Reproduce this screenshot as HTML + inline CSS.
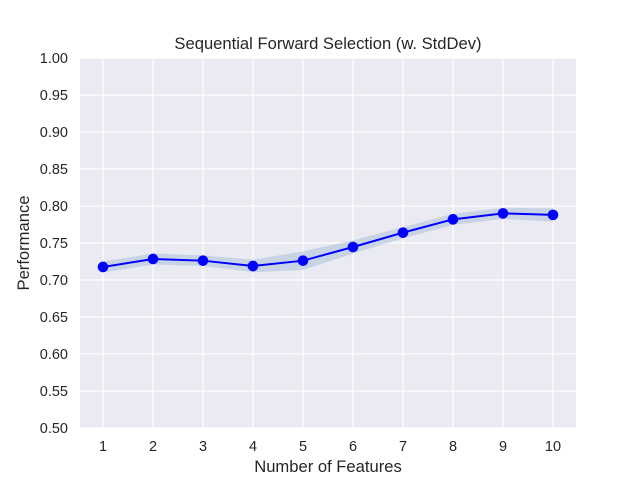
<!DOCTYPE html>
<html><head><meta charset="utf-8"><style>
body{margin:0;background:#fff;}
svg text{font-family:"Liberation Sans","DejaVu Sans",sans-serif;fill:#262626;}
</style></head><body>
<svg id="chart" width="640" height="480" xmlns="http://www.w3.org/2000/svg">
<rect x="80" y="58" width="496" height="370" fill="#eaeaf2"/>
<g id="grid"></g>
<path id="band" fill="#b0c4de" fill-opacity="0.6" stroke="none"/>
<path id="line" fill="none" stroke="#0000ff" stroke-width="2"/>
<g id="points"></g>
<g id="xticks"></g><g id="yticks"></g>
<text x="328" y="49" font-size="16.6" text-anchor="middle">Sequential Forward Selection (w. StdDev)</text>
<text x="328" y="472" font-size="16.6" text-anchor="middle">Number of Features</text>
<text transform="translate(29,243) rotate(-90)" font-size="16.6" text-anchor="middle">Performance</text>
</svg>
<script>
const features=[1,2,3,4,5,6,7,8,9,10];
const perf=[0.7176,0.7284,0.7261,0.7189,0.7261,0.7446,0.764,0.782,0.790,0.788];
const stdv=[0.0074,0.0075,0.0072,0.0085,0.0125,0.009,0.0075,0.0075,0.0075,0.009];
const yTicks=[0.50,0.55,0.60,0.65,0.70,0.75,0.80,0.85,0.90,0.95,1.00];
const NS="http://www.w3.org/2000/svg";
const X=v=>103+(v-1)*50;
const Y=v=>428-(v-0.5)*740;
function mk(t,a,p){const e=document.createElementNS(NS,t);for(const k in a)e.setAttribute(k,a[k]);p.appendChild(e);return e;}
const grid=document.getElementById('grid'),xt=document.getElementById('xticks'),yt=document.getElementById('yticks');
yTicks.forEach(v=>{
 const l=mk('line',{x1:80,x2:576,y1:Y(v),y2:Y(v),stroke:'#fff','stroke-width':1.2},grid);
 
 
 const t=mk('text',{x:68,y:Y(v)+5,'font-size':14.5,'text-anchor':'end'},yt);
 
 
 t.textContent=v.toFixed(2);
});
features.forEach(v=>{
 const l=mk('line',{x1:X(v),x2:X(v),y1:58,y2:428,stroke:'#fff','stroke-width':1.2},grid);
 
 
 const t=mk('text',{x:X(v),y:451,'font-size':14.5,'text-anchor':'middle'},xt);
 
 
 t.textContent=v;
});
let up=features.map((f,i)=>X(f)+','+Y(perf[i]+stdv[i]));
let dn=features.map((f,i)=>X(f)+','+Y(perf[i]-stdv[i])).reverse();
document.getElementById('band').setAttribute('d','M'+up.join('L')+'L'+dn.join('L')+'Z');
document.getElementById('line').setAttribute('d','M'+features.map((f,i)=>X(f)+','+Y(perf[i])).join('L'));
const pts=document.getElementById('points');
features.forEach((f,i)=>{
 const c=mk('circle',{cx:X(f),cy:Y(perf[i]),r:5.3,fill:'#0000ff'},pts);
 
 
});
</script>
</body></html>
